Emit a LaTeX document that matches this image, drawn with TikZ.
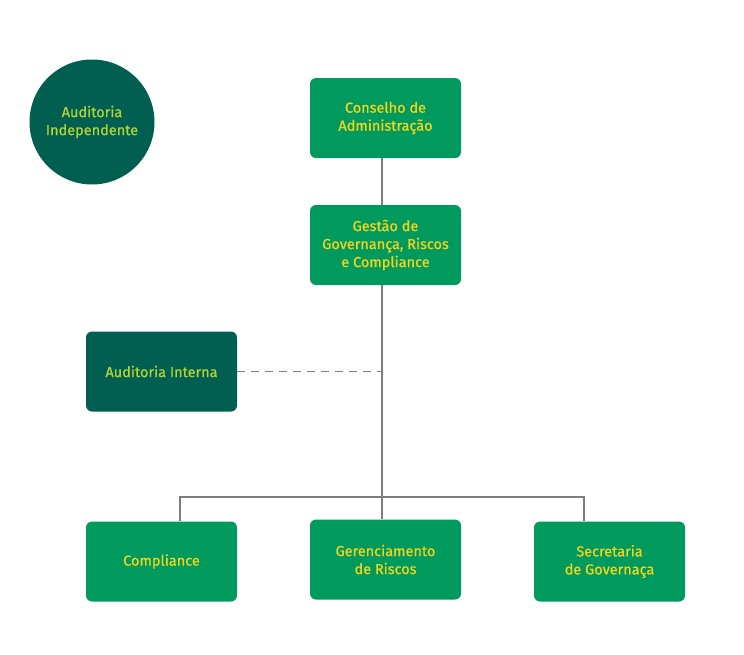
\documentclass[tikz,border=0pt]{standalone}
\usepackage{fontspec}
\setmainfont{Fira Sans}
\newfontfamily\rotulo{Fira Sans}[FakeBold=0.8]
\usetikzlibrary{positioning}
\definecolor{verde}{HTML}{009A5E}
\definecolor{verdeescuro}{HTML}{005F51}
\definecolor{amarelo}{HTML}{F2D41A}
\definecolor{verdeclaro}{HTML}{B2D235}
\definecolor{linha}{HTML}{7D7C83}
\tikzset{
  caixa/.style={rectangle, rounded corners=6pt, fill=verde, text=amarelo,
    minimum width=151pt, minimum height=80pt, align=center,
    font=\rotulo\fontsize{14.5}{18}\selectfont},
  caixaescura/.style={caixa, fill=verdeescuro, text=verdeclaro},
  ligacao/.style={draw=linha, line width=1.8pt}
}
\begin{document}
\begin{tikzpicture}[x=1pt, y=-1pt]
			\useasboundingbox (0,0) rectangle (744,654);
			% Caixas
			\node[circle, fill=verdeescuro, text=verdeclaro, minimum size=125pt, inner sep=0pt,
			  align=center, font=\rotulo\fontsize{14.5}{18}\selectfont] (independente) at (92,122) {Auditoria\\Independente};
			\node[caixa] (conselho) at (385.5,118) {Conselho de\\Administração};
			\node[caixa] (gestao) at (385.5,245) {Gestão de\\Governança, Riscos\\e Compliance};
			\node[caixaescura] (interna) at (161.5,371.5) {Auditoria Interna};
			\node[caixa] (compliance) at (161.5,561.5) {Compliance};
			\node[caixa] (riscos) at (385.5,559.5) {Gerenciamento\\de Riscos};
			\node[caixa] (secretaria) at (609.5,561.5) {Secretaria\\de Governaça};
			
			% Pontos de ramificação
			\coordinate (tronco) at (382,0);
			\coordinate (ramoE) at (180,497);
			\coordinate (ramoD) at (584,497);
			
			% Ligações
			\draw[ligacao] (conselho.south -| tronco) -- (gestao.north -| tronco);
			\draw[ligacao] (gestao.south -| tronco) -- (riscos.north -| tronco);
			\draw[ligacao] (compliance.north -| ramoE) -- (ramoE) -- (ramoD) -- (secretaria.north -| ramoD);
			\draw[ligacao, dash pattern=on 8pt off 6pt, line width=1.4pt] (interna.east) -- (interna.east -| tronco);
		\end{tikzpicture}
\end{document}
